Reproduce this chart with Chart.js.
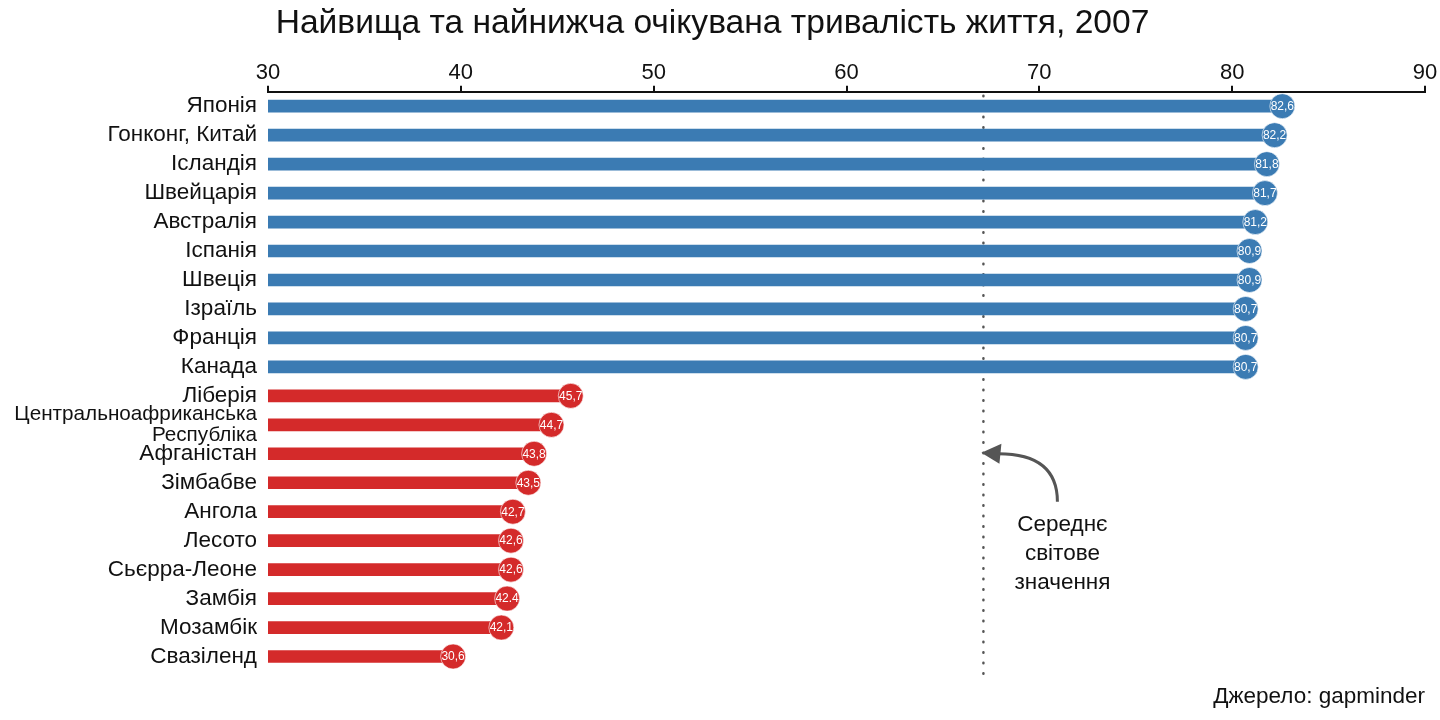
<!DOCTYPE html>
<html lang="uk">
<head>
<meta charset="utf-8">
<title>Очікувана тривалість життя, 2007</title>
<script src="https://cdn.jsdelivr.net/npm/chart.js@4.4.1/dist/chart.umd.min.js"></script>
<style>
    html, body { margin: 0; padding: 0; background: #fff; }
    #wrap { width: 1440px; height: 720px; position: relative; }
</style>
</head>
<body>
<div id="wrap"><canvas id="lifeChart"></canvas></div>
<script>
// Дані
const countries = [
    'Японія', 'Гонконг, Китай', 'Ісландія', 'Швейцарія', 'Австралія',
    'Іспанія', 'Швеція', 'Ізраїль', 'Франція', 'Канада',
    'Ліберія', ['Центральноафриканська', 'Республіка'], 'Афганістан', 'Зімбабве', 'Ангола',
    'Лесото', 'Сьєрра-Леоне', 'Замбія', 'Мозамбік', 'Свазіленд'
];
const highest = [82.6, 82.2, 81.8, 81.7, 81.2, 80.9, 80.9, 80.7, 80.7, 80.7];
const lowest = [45.7, 44.7, 43.8, 43.5, 42.7, 42.6, 42.6, 42.4, 42.1, 39.6];
// підписи в кружечках так, як вони надруковані
const valueLabels = [
    '82,6', '82,2', '81,8', '81,7', '81,2', '80,9', '80,9', '80,7', '80,7', '80,7',
    '45,7', '44,7', '43,8', '43,5', '42,7', '42,6', '42,6', '42.4', '42,1', '30,6'
];
const xTicks = [30, 40, 50, 60, 70, 80, 90];
const worldAverage = 67.1;

const BLUE = '#3b7bb3';
const RED = '#d42a2a';
const FONT = "'Liberation Sans', Arial, Helvetica, sans-serif";

const values = highest.concat(lowest);
const colors = values.map((v, i) => i < highest.length ? BLUE : RED);

// кружечки на кінцях стовпчиків + середня лінія + стрілка
const lollipopPlugin = {
    id: 'lollipop',
    beforeDatasetsDraw(chart) {
        const { ctx, chartArea, scales } = chart;
        const x = scales.x.getPixelForValue(worldAverage);
        ctx.save();
        ctx.strokeStyle = '#555';
        ctx.lineWidth = 2.5;
        ctx.lineCap = 'round';
        ctx.setLineDash([0.5, 10]);
        ctx.beginPath();
        ctx.moveTo(x, chartArea.top + 4);
        ctx.lineTo(x, chartArea.bottom + 10);
        ctx.stroke();
        ctx.restore();
    },
    afterDatasetsDraw(chart) {
        const { ctx, scales } = chart;
        ctx.save();
        values.forEach((v, i) => {
            const cx = scales.x.getPixelForValue(v);
            const cy = scales.y.getPixelForValue(i);
            ctx.beginPath();
            ctx.arc(cx, cy, 12.5, 0, Math.PI * 2);
            ctx.fillStyle = colors[i];
            ctx.fill();
            ctx.lineWidth = 1;
            ctx.strokeStyle = 'rgba(255,255,255,0.6)';
            ctx.stroke();
            ctx.fillStyle = '#fff';
            ctx.font = '12px ' + FONT;
            ctx.textAlign = 'center';
            ctx.textBaseline = 'middle';
            ctx.fillText(valueLabels[i], cx, cy + 0.5);
        });

        // стрілка до середнього світового значення
        const ax = scales.x.getPixelForValue(worldAverage);
        const ay = scales.y.getPixelForValue(12);
        const sx = ax + 74;
        const sy = ay + 48;
        ctx.strokeStyle = '#555';
        ctx.fillStyle = '#555';
        ctx.lineWidth = 3;
        ctx.beginPath();
        ctx.moveTo(sx, sy);
        ctx.quadraticCurveTo(sx, ay, ax + 15, ay);
        ctx.stroke();
        ctx.beginPath();
        ctx.moveTo(ax - 2, ay - 1);
        ctx.lineTo(ax + 18, ay - 10);
        ctx.lineTo(ax + 16, ay + 10);
        ctx.closePath();
        ctx.fill();

        ctx.fillStyle = '#111';
        ctx.font = '22.5px ' + FONT;
        ctx.textAlign = 'center';
        ctx.textBaseline = 'middle';
        const tx = ax + 79;
        ['Середнє', 'світове', 'значення'].forEach((line, k) => {
            ctx.fillText(line, tx, ay + 71 + k * 29);
        });
        ctx.restore();
    }
};

const chart = new Chart(document.getElementById('lifeChart').getContext('2d'), {
    type: 'bar',
    data: {
        labels: countries,
        datasets: [{
            data: values,
            backgroundColor: colors,
            borderWidth: 0,
            barThickness: 12
        }]
    },
    options: {
        indexAxis: 'y',
        responsive: true,
        maintainAspectRatio: false,
        animation: false,
        layout: {
            padding: { left: 0, right: 15, top: 0, bottom: 0 }
        },
        plugins: {
            legend: { display: false },
            tooltip: { enabled: false },
            title: {
                display: true,
                text: 'Найвища та найнижча очікувана тривалість життя, 2007',
                color: '#111',
                font: { size: 33.6, weight: 'normal', family: FONT },
                padding: { top: 4, bottom: 15 }
            },
            subtitle: {
                display: true,
                position: 'bottom',
                align: 'end',
                text: 'Джерело: gapminder',
                color: '#111',
                font: { size: 22.5, weight: 'normal', family: FONT },
                padding: { top: 12, bottom: 10 }
            }
        },
        scales: {
            x: {
                position: 'top',
                min: 30,
                max: 90,
                afterBuildTicks(scale) {
                    scale.ticks = xTicks.map(v => ({ value: v }));
                },
                ticks: {
                    color: '#111',
                    padding: 0,
                    font: { size: 22, family: FONT }
                },
                grid: {
                    drawOnChartArea: false,
                    drawTicks: true,
                    tickLength: 6,
                    color: '#111',
                    lineWidth: 2
                },
                border: { display: true, color: '#111', width: 2 }
            },
            y: {
                afterFit(scale) {
                    scale.width = 268;
                },
                ticks: {
                    autoSkip: false,
                    color: '#111',
                    padding: 3,
                    font: (c) => ({
                        size: c.index === 11 ? 20.7 : 22.5,
                        family: FONT,
                        lineHeight: c.index === 11 ? 1 : 1.2
                    })
                },
                grid: { display: false },
                border: { display: false }
            }
        }
    },
    plugins: [lollipopPlugin]
});
</script>
</body>
</html>
